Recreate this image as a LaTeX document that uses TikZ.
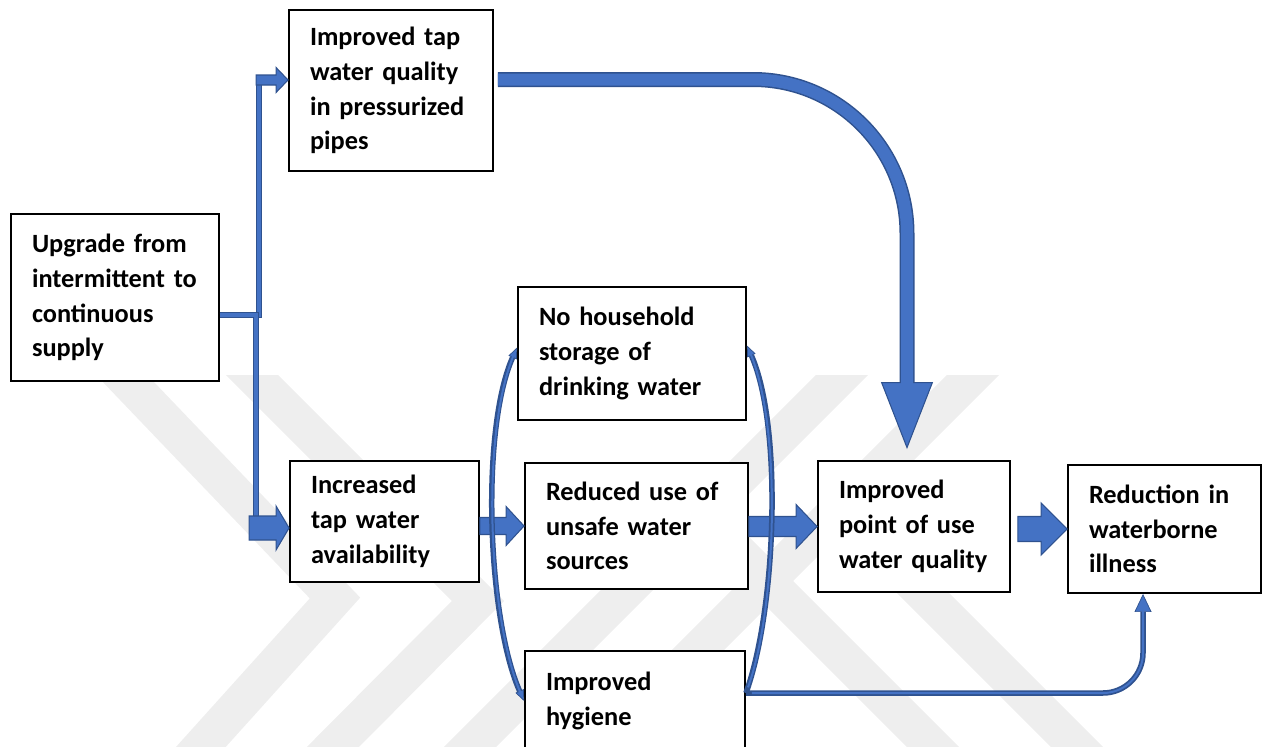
\documentclass[tikz,border=0pt]{standalone}
\usepackage{fontspec}
\setmainfont{Carlito}
\usetikzlibrary{arrows.meta,calc}

\definecolor{afill}{HTML}{4472C4}
\definecolor{aedge}{HTML}{2F528F}
\definecolor{wmark}{HTML}{EEEEEE}

% block arrow: start, end, half shaft, half head, head length
\newcommand{\blockarrow}[5]{%
  \draw[blockarr] let \p1=(#1), \p2=(#2) in
    (\x1,{\y2+#3}) -- ({\x2-#5},{\y2+#3}) -- ({\x2-#5},{\y2+#4}) -- (\x2,\y2)
    -- ({\x2-#5},{\y2-#4}) -- ({\x2-#5},{\y2-#3}) -- (\x1,{\y2-#3}) -- cycle;}

\tikzset{
  box/.style={draw, line width=1.1pt, fill=white, align=left, inner xsep=0.42cm, inner ysep=0pt,
    font=\bfseries\fontsize{15pt}{19.8pt}\selectfont},
  blockarr/.style={fill=afill, draw=aedge, line width=0.6pt, line join=miter},
  elbow/.style={draw=aedge, line width=0.12cm, postaction={draw=afill, line width=0.07cm}},
  loopline/.style={draw=aedge, line width=0.11cm,
    postaction={draw=afill, line width=0.04cm, -, shorten <=0.12cm, shorten >=0.12cm}},
  bigarrow/.style={draw=aedge, line width=0.3cm,
    -{Triangle[length=1.34cm,width=1.04cm,line width=0.6pt,fill=afill]},
    postaction={draw=afill, line width=0.24cm, -, shorten >=1.3cm}},
  stripe/.style={draw=wmark, line width=0.74cm, line join=miter},
}

\begin{document}
\begin{tikzpicture}[x=0.02cm, y=-0.02cm,
    >={Triangle[length=0.22cm,width=0.18cm,line width=0.4pt,fill=afill]}]
  \useasboundingbox (0,0) rectangle (1262,747);

  % faint stripes in the background
  \begin{scope}
    \clip (0,375) rectangle (1262,747);
    \draw[stripe] (93,345) -- (335,598) -- (181,769);
    \draw[stripe] (222,345) -- (478,601) -- (311,769);
    \draw[stripe] (872,345) -- (447,770);
    \draw[stripe] (1003,345) -- (578,770);
    \draw[stripe] (701,515) -- (956,770);
    \draw[stripe] (839,509) -- (1100,770);
  \end{scope}

  \node[box, text width=3.32cm, minimum height=3.34cm] (upgrade) at (115,297.5)
    {Upgrade~from\\intermittent~to\\continuous\\supply};
  \node[box, text width=3.24cm, minimum height=3.22cm] (tapq) at (391,90.5)
    {Improved~tap\\water~quality\\in~pressurized\\pipes};
  \node[box, text width=3.72cm, minimum height=2.66cm] (nohouse) at (632,353.5)
    {No~household\\storage~of\\drinking~water};
  \node[box, text width=2.94cm, minimum height=2.42cm] (incr) at (384.5,521.5)
    {Increased\\tap~water\\availability};
  \node[box, text width=3.62cm, minimum height=2.52cm] (reduced) at (636.5,526)
    {Reduced~use~of\\unsafe~water\\sources};
  \node[box, text width=3.0cm, minimum height=2.62cm] (pou) at (914,526.5)
    {Improved\\point~of~use\\water~quality};
  \node[box, text width=3.02cm, minimum height=2.56cm] (reduc) at (1164.5,529)
    {Reduction~in\\waterborne\\illness};
  \node[box, text width=3.56cm, minimum height=2.0cm] (hygiene) at (635,701)
    {Improved\\hygiene};

  % supply splits up and down
  \coordinate (split) at ([yshift=-0.35cm]upgrade.east);
  \coordinate (tapin) at ([yshift=0.21cm]tapq.west);
  \coordinate (incrin) at ([yshift=-0.13cm]incr.west);
  \draw[elbow] (split) -| ([xshift=-0.58cm]tapin);
  \draw[elbow] (split) -| ([xshift=-0.66cm]incrin);
  \blockarrow{[xshift=-0.64cm]tapin}{tapin}{0.1cm}{0.25cm}{0.24cm}
  \blockarrow{[xshift=-0.8cm]incrin}{incrin}{0.24cm}{0.44cm}{0.26cm}

  % main chain
  \blockarrow{incr.east}{reduced.west}{0.17cm}{0.39cm}{0.36cm}
  \blockarrow{reduced.east}{pou.west}{0.2cm}{0.44cm}{0.42cm}
  \blockarrow{[xshift=0.14cm]pou.east}{reduc.west}{0.25cm}{0.52cm}{0.52cm}

  \draw[bigarrow, rounded corners=3.08cm] ([xshift=0.08cm, yshift=0.22cm]tapq.east)
    -| ([xshift=-0.14cm, yshift=0.22cm]pou.north);

  % loops round the middle column
  \coordinate (hyout) at ([yshift=0.16cm]hygiene.east);
  \draw[loopline, <->] ([yshift=0.12cm]nohouse.west)
    to[out=-114, in=114, looseness=0.65] (hygiene.west);
  \draw[loopline, ->] (hyout)
    to[out=70, in=-66, looseness=0.65] ([yshift=0.16cm]nohouse.east);
  \draw[loopline, -{Triangle[length=0.36cm,width=0.34cm,line width=0.4pt,fill=afill]},
    rounded corners=0.8cm] (hyout) -| ([xshift=-0.43cm]reduc.south);
\end{tikzpicture}
\end{document}
